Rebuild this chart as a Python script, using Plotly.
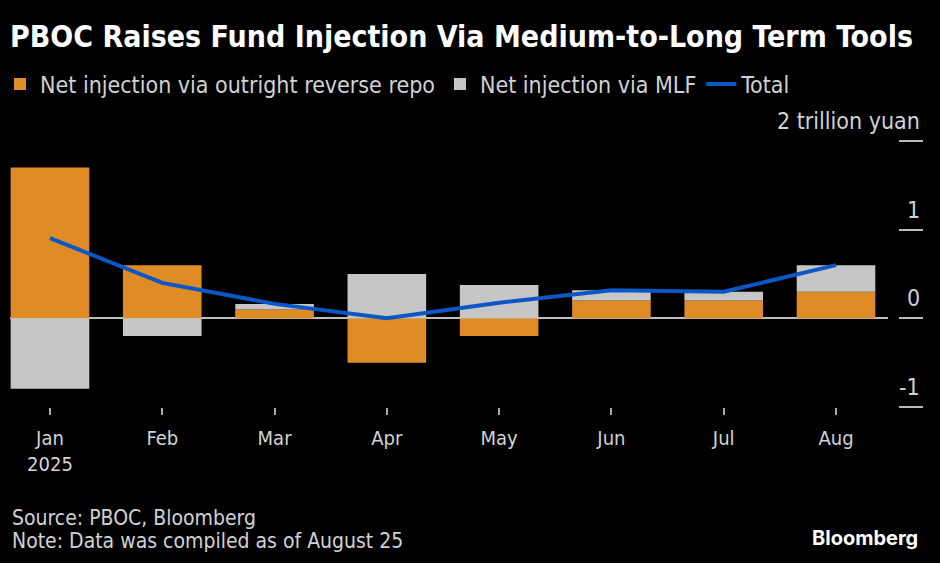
import plotly.graph_objects as go

months = ["Jan", "Feb", "Mar", "Apr", "May", "Jun", "Jul", "Aug"]
tick_text = ["Jan<br>2025", "Feb", "Mar", "Apr", "May", "Jun", "Jul", "Aug"]
reverse_repo = [1.70, 0.60, 0.10, -0.50, -0.20, 0.20, 0.20, 0.30]
mlf = [-0.795, -0.20, 0.063, 0.50, 0.375, 0.118, 0.10, 0.30]
total = [0.905, 0.40, 0.163, 0.00, 0.175, 0.318, 0.30, 0.60]
y_ticks = [-1, 0, 1, 2]
y_tick_labels = ["-1", "0", "1", "2 trillion yuan"]

ORANGE = "#E08C26"
GREY = "#C6C6C6"
BLUE = "#0B57C6"
TXT = "#D2D2D2"
FONT = "DejaVu Sans Condensed"

W, H = 940, 563
L, R, T, B = 10, 42, 141, 156
plot_w = W - L - R
plot_h = H - T - B
x_dom_end = (888 - L) / plot_w


def px_x(xpx):
    return (xpx - L) / plot_w


def px_y(ypx):
    return (H - B - ypx) / plot_h


fig = go.Figure()
fig.add_trace(go.Bar(x=months, y=reverse_repo, name="Net injection via outright reverse repo",
                     marker=dict(color=ORANGE, line=dict(width=0))))
fig.add_trace(go.Bar(x=months, y=mlf, name="Net injection via MLF",
                     marker=dict(color=GREY, line=dict(width=0))))
fig.add_trace(go.Scatter(x=months, y=total, name="Total", mode="lines",
                         line=dict(color=BLUE, width=4)))

fig.update_layout(
    width=W, height=H,
    margin=dict(l=L, r=R, t=T, b=B),
    paper_bgcolor="black", plot_bgcolor="black",
    barmode="relative", bargap=0.30,
    font=dict(family=FONT, color=TXT, size=20),
    title=dict(text="<b>PBOC Raises Fund Injection Via Medium-to-Long Term Tools</b>",
               font=dict(family=FONT, size=30, color="white"),
               xref="container", yref="container", x=10 / W, xanchor="left",
               y=1 - 36 / H, yanchor="middle"),
    legend=dict(orientation="h", xref="container", yref="container",
                x=0, xanchor="left", y=1 - 84 / H, yanchor="middle",
                font=dict(family=FONT, size=23, color=TXT),
                bgcolor="rgba(0,0,0,0)", itemclick=False, traceorder="normal"),
    xaxis=dict(domain=[0, x_dom_end], range=[-0.356, 7.463],
               tickmode="array", tickvals=months, ticktext=tick_text,
               ticks="outside", ticklen=7, tickcolor="#AAAAAA", tickwidth=1.5,
               ticklabelstandoff=6,
               showgrid=False, showline=False, zeroline=False,
               tickfont=dict(family=FONT, size=20, color=TXT)),
    yaxis=dict(range=[-1, 2], anchor="free", position=1, side="right",
               tickmode="array", tickvals=y_ticks, ticks="outside", ticklen=24,
               tickcolor="#BBBBBB", tickwidth=1.5, showticklabels=False,
               showgrid=False, showline=False,
               zeroline=True, zerolinecolor="#BDBDBD", zerolinewidth=2),
    showlegend=True,
)

for v, lab in zip(y_ticks, y_tick_labels):
    fig.add_annotation(x=1, xref="paper", xshift=24, y=v, yref="y", yshift=20,
                       text=lab, showarrow=False, xanchor="right", yanchor="middle",
                       font=dict(family=FONT, size=23, color=TXT))

fig.add_annotation(x=px_x(10), xref="paper", y=px_y(518), yref="paper",
                   text="Source: PBOC, Bloomberg", showarrow=False,
                   xanchor="left", yanchor="middle",
                   font=dict(family=FONT, size=21, color=TXT))
fig.add_annotation(x=px_x(10), xref="paper", y=px_y(541), yref="paper",
                   text="Note: Data was compiled as of August 25", showarrow=False,
                   xanchor="left", yanchor="middle",
                   font=dict(family=FONT, size=21, color=TXT))
fig.add_annotation(x=px_x(920), xref="paper", y=px_y(538), yref="paper",
                   text="<b>Bloomberg</b>", showarrow=False,
                   xanchor="right", yanchor="middle",
                   font=dict(family="Inter", size=20, color="white"))

fig.write_html("out.html")
